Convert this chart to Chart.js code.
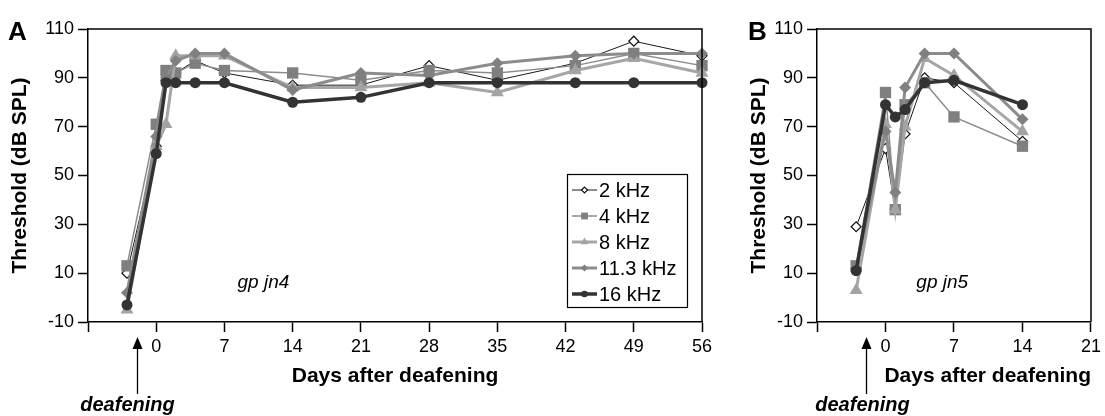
<!DOCTYPE html>
<html lang="en">
<head>
<meta charset="UTF-8">
<title>Threshold after deafening</title>
<script src="https://cdn.jsdelivr.net/npm/chart.js@4.4.0/dist/chart.umd.min.js"></script>
<style>
  html, body { margin: 0; padding: 0; background: #fff; }
  body { width: 1105px; height: 416px; position: relative; overflow: hidden; }
  .panel { position: absolute; top: 0; }
  #panelA { left: 0; width: 730px; height: 416px; }
  #panelB { left: 740px; width: 365px; height: 416px; }
</style>
</head>
<body>
<div class="panel" id="panelA"><canvas id="chartA" width="730" height="416"></canvas></div>
<div class="panel" id="panelB"><canvas id="chartB" width="365" height="416"></canvas></div>

<script>
// values (threshold in dB SPL per test day)
const seriesNames = ['2 kHz', '4 kHz', '8 kHz', '11.3 kHz', '16 kHz'];

const daysA = [-3, 0, 1, 2, 4, 7, 14, 21, 28, 35, 43, 49, 56];
const a2k   = [10, 62, 89, 92, 97, 92, 87, 87, 95, 89, 96, 105, 99];
const a4k   = [13, 71, 93, 92, 96, 93, 92, 89, 93, 92, 95, 100, 95];
const a8k   = [-5, 62, 71, 99, 99, 99, 86, 86, 88, 84, 93, 98, 92];
const a11k  = [2, 66, 90, 97, 100, 100, 85, 92, 91, 96, 99, 100, 100];
const a16k  = [-3, 59, 88, 88, 88, 88, 80, 82, 88, 88, 88, 88, 88];

const daysB = [-3, 0, 1, 2, 4, 7, 14];
const b2k   = [29, 61, 36, 67, 90, 88, 64];
const b4k   = [13, 84, 36, 79, 88, 74, 62];
const b8k   = [3, 71, 36, 70, 98, 91, 68];
const b11k  = [12, 68, 43, 86, 100, 100, 73];
const b16k  = [11, 79, 74, 77, 88, 89, 79];

const yTicks  = [-10, 10, 30, 50, 70, 90, 110];
const xTicksA = [-7, 0, 7, 14, 21, 28, 35, 42, 49, 56];
const xTicksB = [-7, 0, 7, 14, 21];

const FONT = '"Liberation Sans", Arial, Helvetica, sans-serif';

// look of each series, same order as seriesNames
const looks = [
    { pointStyle: 'rectRot',  radius: 5,   fill: '#ffffff', edge: '#111111', edgeW: 1.2, line: '#1a1a1a', lineW: 1,   order: 5 },
    { pointStyle: 'rect',     radius: 8,   fill: '#7f7f7f', edge: '#7f7f7f', edgeW: 0,   line: '#8c8c8c', lineW: 1.5, order: 4 },
    { pointStyle: 'triangle', radius: 7.5, fill: '#a3a3a3', edge: '#a3a3a3', edgeW: 0,   line: '#a6a6a6', lineW: 3,   order: 3 },
    { pointStyle: 'rectRot',  radius: 6,   fill: '#808080', edge: '#808080', edgeW: 0,   line: '#8c8c8c', lineW: 3,   order: 2 },
    { pointStyle: 'circle',   radius: 5.5, fill: '#333333', edge: '#333333', edgeW: 0,   line: '#333333', lineW: 3.5, order: 1 }
];

function buildSets(days, lists) {
    return lists.map((vals, i) => {
        const lk = looks[i];
        return {
            label: seriesNames[i],
            data: days.map((d, j) => ({ x: d, y: vals[j] })),
            borderColor: lk.line,
            borderWidth: lk.lineW,
            pointStyle: lk.pointStyle,
            pointRadius: lk.radius,
            pointBackgroundColor: lk.fill,
            pointBorderColor: lk.edge,
            pointBorderWidth: lk.edgeW,
            tension: 0,
            clip: false,
            order: lk.order
        };
    });
}

// frame, panel letter, animal id, deafening arrow and the in-plot legend
const extras = {
    id: 'extras',
    afterDraw(chart, args, o) {
        const { ctx, chartArea: a, scales: { x, y } } = chart;
        ctx.save();
        ctx.strokeStyle = '#000';
        ctx.lineWidth = 1.5;
        ctx.beginPath();
        ctx.moveTo(a.left, a.top);
        ctx.lineTo(a.right, a.top);
        ctx.lineTo(a.right, a.bottom);
        ctx.stroke();

        ctx.fillStyle = '#000';
        ctx.textAlign = 'left';
        ctx.textBaseline = 'alphabetic';
        ctx.font = 'bold 26px ' + FONT;
        ctx.fillText(o.letter, o.letterX, 40);

        ctx.font = 'italic 19px ' + FONT;
        ctx.textAlign = 'center';
        ctx.textBaseline = 'middle';
        ctx.fillText(o.animal, x.getPixelForValue(o.animalAt[0]), y.getPixelForValue(o.animalAt[1]));

        // arrow marking the day of deafening
        const ax = Math.round(x.getPixelForValue(-2)) + 0.5;
        ctx.lineWidth = 1.3;
        ctx.beginPath();
        ctx.moveTo(ax, 394);
        ctx.lineTo(ax, 346);
        ctx.stroke();
        ctx.beginPath();
        ctx.moveTo(ax, 337);
        ctx.lineTo(ax - 5, 349);
        ctx.lineTo(ax + 5, 349);
        ctx.closePath();
        ctx.fill();
        ctx.font = 'bold italic 20px ' + FONT;
        ctx.textAlign = 'center';
        ctx.textBaseline = 'alphabetic';
        ctx.fillText('deafening', ax + o.textShift, 411);

        if (o.legend) {
            const L = o.legend;
            ctx.lineWidth = 1.2;
            ctx.strokeStyle = '#000';
            ctx.fillStyle = '#fff';
            ctx.fillRect(L.x, L.y, L.w, L.h);
            ctx.strokeRect(L.x + 0.5, L.y + 0.5, L.w, L.h);
            chart.data.datasets.forEach((ds, i) => {
                const lk = looks[i];
                const cy = L.y + 16 + i * L.row;
                ctx.strokeStyle = lk.line;
                ctx.lineWidth = lk.lineW;
                ctx.beginPath();
                ctx.moveTo(L.x + 5, cy);
                ctx.lineTo(L.x + 30, cy);
                ctx.stroke();
                ctx.fillStyle = lk.fill;
                ctx.strokeStyle = lk.edge;
                ctx.lineWidth = lk.edgeW;
                Chart.helpers.drawPoint(ctx, {
                    pointStyle: lk.pointStyle,
                    radius: lk.radius * 0.6,
                    rotation: 0,
                    borderWidth: lk.edgeW
                }, L.x + 17.5, cy);
                ctx.fillStyle = '#000';
                ctx.font = '20px ' + FONT;
                ctx.textAlign = 'left';
                ctx.textBaseline = 'middle';
                ctx.fillText(ds.label, L.x + 32, cy + 1);
            });
        }
        ctx.restore();
    }
};

function makeChart(id, days, lists, xTicks, cfg) {
    return new Chart(document.getElementById(id), {
        type: 'line',
        data: { datasets: buildSets(days, lists) },
        options: {
            responsive: false,
            animation: false,
            events: [],
            layout: { padding: { left: 0, top: 29, right: cfg.padRight, bottom: 0 } },
            plugins: {
                legend: { display: false },
                tooltip: { enabled: false },
                extras: cfg.extras
            },
            scales: {
                x: {
                    type: 'linear',
                    min: xTicks[0],
                    max: xTicks[xTicks.length - 1],
                    afterBuildTicks: s => { s.ticks = xTicks.map(v => ({ value: v })); },
                    afterFit: s => { s.height = 94; },
                    border: { color: '#000', width: 1.5 },
                    grid: { drawOnChartArea: false, tickLength: 10, tickColor: '#000', tickWidth: 1.5 },
                    ticks: {
                        padding: 4,
                        color: '#000',
                        font: { family: FONT, size: 18 },
                        callback: v => (v < 0 ? '' : v)
                    },
                    title: {
                        display: true,
                        text: 'Days after deafening',
                        align: cfg.titleAlign,
                        color: '#000',
                        font: { family: FONT, size: 21, weight: 'bold' },
                        padding: { top: 4, bottom: 27 }
                    }
                },
                y: {
                    min: yTicks[0],
                    max: yTicks[yTicks.length - 1],
                    afterBuildTicks: s => { s.ticks = yTicks.map(v => ({ value: v })); },
                    afterFit: s => { s.width = cfg.yWidth; },
                    border: { color: '#000', width: 1.5 },
                    grid: { drawOnChartArea: false, tickLength: 10, tickColor: '#000', tickWidth: 1.5 },
                    ticks: {
                        padding: 4,
                        color: '#000',
                        font: { family: FONT, size: 18 }
                    },
                    title: {
                        display: true,
                        text: 'Threshold (dB SPL)',
                        color: '#000',
                        font: { family: FONT, size: 21, weight: 'bold' },
                        padding: { top: cfg.yTitlePad, bottom: 0 }
                    }
                }
            }
        },
        plugins: [extras]
    });
}

makeChart('chartA', daysA, [a2k, a4k, a8k, a11k, a16k], xTicksA, {
    padRight: 28,
    yWidth: 88,
    yTitlePad: 8,
    titleAlign: 'center',
    extras: {
        letter: 'A', letterX: 8,
        animal: 'gp jn4', animalAt: [11, 6],
        textShift: -10,
        legend: { x: 567, y: 174, w: 120, h: 133, row: 26 }
    }
});

makeChart('chartB', daysB, [b2k, b4k, b8k, b11k, b16k], xTicksB, {
    padRight: 13,
    yWidth: 77,
    yTitlePad: 7,
    titleAlign: 'end',
    extras: {
        letter: 'B', letterX: 8,
        animal: 'gp jn5', animalAt: [5.8, 6],
        textShift: -4,
        legend: null
    }
});
</script>
</body>
</html>
